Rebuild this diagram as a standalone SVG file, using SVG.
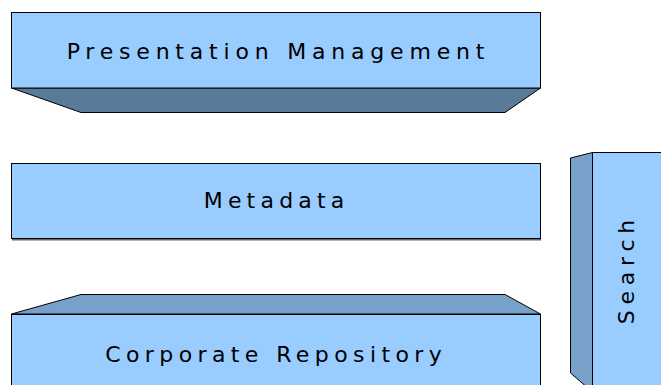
<svg xmlns="http://www.w3.org/2000/svg" width="661" height="385" viewBox="0 0 661 385">
<style>
.front{fill:#99ccff;stroke:#000;stroke-width:1}
.dark{fill:#5a7a9a;stroke:#000;stroke-width:1}
.side{fill:#77a1c9;stroke:#000;stroke-width:1}
.lbl{font-family:"DejaVu Sans",sans-serif;font-size:22px;letter-spacing:5.8px;fill:#000;text-anchor:middle}
</style>
<rect width="661" height="385" fill="#fff"/>
<g id="presentation">
<polygon class="dark" points="11.5,88 540.5,88 505,112.5 81,112.5"/>
<rect class="front" x="11.5" y="12.5" width="529" height="75.5"/>
<text class="lbl" x="278.4" y="59">Presentation Management</text>
</g>
<g id="metadata">
<line x1="12" y1="239.5" x2="541" y2="239.5" stroke="#666" stroke-width="2"/>
<rect class="front" x="11.5" y="163.5" width="529" height="75"/>
<text class="lbl" x="276.6" y="208" style="letter-spacing:5.2px">Metadata</text>
</g>
<g id="repository">
<polygon class="side" points="11.5,314 81,294.5 505,294.5 540.5,314"/>
<rect class="front" x="11.5" y="314.5" width="529" height="80"/>
<text class="lbl" x="276.2" y="362" style="letter-spacing:5.4px">Corporate Repository</text>
</g>
<g id="search">
<polygon class="side" points="570.5,158 592.5,152.5 592.5,392 570.5,373"/>
<rect class="front" x="592.5" y="152.5" width="80" height="240"/>
<text class="lbl" transform="translate(634,272) rotate(-90)" x="2.9" y="0">Search</text>
</g>
<g id="connectors"/>
</svg>
